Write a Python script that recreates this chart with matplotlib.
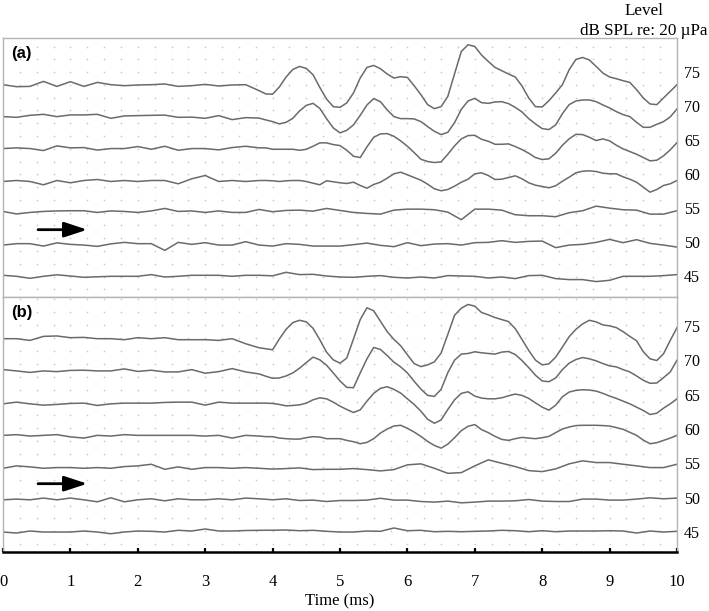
import numpy as np
import matplotlib
matplotlib.use("Agg")
import matplotlib.pyplot as plt

# time axes (ms): the quiet traces are read every 0.2 ms,
# the large responses every 0.1 ms after 3.9 ms
t_coarse = np.linspace(0, 10, 51)
t_fine = np.r_[np.linspace(0, 3.8, 20), np.linspace(3.9, 10, 62)]
levels = [75, 70, 65, 60, 55, 50, 45]

# panel (a) waveforms, amplitude in plot units (up = positive)
a75 = [0, -2, -1.7, 3.3, -1.7, 3, -1.7, 2.3, 0, -1, -0.3, 0, 0.7, -1.7, -1, 0.3, -1.3, -0.3, 0, -6,
       -9.3,
       -9.5, -2.3, 7.7, 15.3, 18.3, 16.3, 10, -2.7, -14.3, -22,
       -22.7, -18.3, -8.3, 6.7, 17.3, 19.3, 16, 10.7, 6.7, 8,
       7.3, -1, -10, -20, -24, -22, -11.7, 11, 33.3, 40,
       38.3, 29.7, 23.3, 17.3, 14, 10.7, 7.7, -1.3, -13.3, -22,
       -22.3, -16, -8.3, 0, 15, 25.3, 27.3, 24.7, 18.3, 11.7,
       7.7, 6, 4, 2.3, -5, -13.3, -19.3, -20, -13.3, -6.7,
       0]
a70 = [0, -0.7, 1.3, 2.3, 0, 1.7, 1.7, 2.3, -1.7, 0.7, 1, 1.3, 1.5, -0.7, -0.5, -1.7, 1, -3, -1, -1.5,
       -3.3,
       -5, -7.3, -5.7, -1.7, 5.7, 11.3, 13.3, 8.3, -2, -11.3,
       -16.3, -13.7, -8.3, 1.3, 11.7, 18, 15, 6.7, 0, -2,
       -2, -2.3, -5, -10, -14.7, -18, -15.7, -6, 7.3, 15.7,
       18.3, 14, 13.3, 14.7, 15, 13, 9.3, 4.7, -2, -7.3,
       -12, -13, -8.3, 3, 12, 15.7, 16.7, 16.7, 15, 11.7,
       8.7, 5, 2, 0, -5.7, -10.7, -10.7, -7.7, -5, -0.3,
       7.7]
a65 = [0, 0.7, 0, -2, 2.7, 0.7, 1, -1.5, 0, 0, 2, -0.7, 2.3, -1.7, 0, 0, -1.3, 1, 2.3, 0.7,
       0.7,
       -0.7, -0.7, -0.7, -0.7, -1.7, -0.7, 2.3, 5.7, 5.7, 4,
       3, -1.7, -7.7, -9, 1.7, 11.3, 14.7, 15, 12.3, 7.7,
       2.3, -4, -10.7, -13, -14, -13.3, -5.7, 2.7, 9.7, 13,
       13.3, 9.3, 7.3, 4.3, 4.3, 4.7, 2, -1, -4.7, -9,
       -11, -10.3, -4.7, 3.3, 9.7, 14.3, 14, 11.3, 8, 9.7,
       7.7, 3.3, -0.3, -3, -5.7, -9, -12.3, -11.7, -7.3, -1.3,
       6]
a60 = [-1, 0, -1, -4.3, 0, -2.3, 0, 1, -1, 0, -1, 0, 0, -3.3, 1.7, 5, -1, 0, -1, 0,
       0,
       -0.3, -1, -0.3, 0, 0, -1, -2.7, -4.3, -0.3, -1.3,
       -2.3, -3, -1.7, -5, -7.7, -4, -1.7, 2.3, 6.7, 8.3,
       5.7, 3, 0.3, -3.7, -8.3, -10.3, -9, -5.7, -1.7, 1.3,
       6.7, 7.7, 5, 1, 1.3, 3, 4.7, 1.7, -2.3, -4.7,
       -6, -7.3, -5.3, -0.7, 3.3, 7.7, 9.3, 9.7, 9, 7.3,
       6.7, 6.7, 3.7, 1.3, -1.7, -6.7, -11.7, -9, -5, -3.3,
       0]
a55 = [1, -1.5, 0, 1, 1.5, 1.7, 1.7, 0, 1.5, 1, 0, 1.5, 4, 1, 1.5, 0, 1.5, 0, 0, 3,
       0.7, 2, 2.3, 1.3, 4, 2, 0, -1, -1.7, 2.3, 3.3, 3.3, 2.7, 0.3, -7.3, 3.3,
       3.3, 2.3, -2.3, -3.3, -3.3, -4.3, -0.3, 1.7, 6.3, 4.3, 2.7, 2.3, -1.7, -1.7, 1.7]
a50 = [-0.7, 0.7, 0.7, -1.7, 1.5, 0, -0.7, -2, 0.5, 2, 0.7, 0.7, -6, 2, 0, 1.7, -0.7, -0.7, 2.7, -0.7,
       -1.7, 0.7, 0, -1.7, -1.7, -1.7, -0.3, 1.3, -1, -2.3, 1.7, -1.3, 0.3, 0.7, -0.7, 1.7,
       2, 3.7, 2, 3, 3.3, -3.3, -0.7, 0, 2, 5, 1.7, 4.7, 1, -0.7, -2.7]
a45 = [1, 0, -2, 0, 1.5, 0.3, -1, -0.5, 0, 0, 0, 1.7, -0.7, 0, 1, 1, 1, 0, 1, 1,
       0.5, 4, 1.7, 2, 0.3, -0.7, -1, 0, 0.7, -1, -1.7, -0.7, -1.7, 0.7, 0.3, 0,
       -1.7, -0.7, -2.3, 0.7, 1, -2.3, -3.3, -3.3, -5.3, -4, 0, 0, 0, 0.7, 1.7]

# panel (b) waveforms
b75 = [0, 0, -1.7, 2.3, 2.7, 1, 1.3, 0, 0, -1, 1, 0, 1, -1, -1, -1, -1.7, 0, -5, -9,
       -10,
       -11, -0.3, 9.3, 16, 18.3, 16.7, 10.3, -1, -13.3, -21,
       -24.3, -19.3, -0.3, 19, 30.7, 27.7, 17.3, 7, -0.7, -7,
       -16, -24.7, -27.7, -26, -23, -14.3, 4.3, 23.3, 30.3, 34,
       32.3, 26, 23.7, 21, 19, 17, 10, -0.7, -11.7, -21.3,
       -26, -25, -18.3, -8.3, 2, 9.3, 14.7, 18.3, 16.7, 13.7,
       12.7, 11, 7, 2.3, -2, -13, -20, -21.7, -15, -1.7,
       11]
b70 = [1.3, 0, -1.5, 0, -0.7, 0.5, 0.7, 0, 0, 2, -0.5, 0.7, -1, -1, 1.3, -2.3, -0.7, 2.3, -1, -3,
       -5.3,
       -7.3, -7, -5, -2, 2.7, 8.3, 13.7, 11, 5.7, -2,
       -10, -16.3, -16.7, -2, 12, 23.3, 21.3, 15.3, 8.7, 4,
       -2, -10.3, -18, -24.3, -25.3, -18.3, -1.7, 10.7, 16.7, 17.3,
       19, 18, 17.3, 16.7, 18.7, 19.3, 16.3, 10.3, 3.3, -4.3,
       -10, -10.7, -7, 1.3, 7.7, 11.3, 13.3, 12, 10, 7.3,
       5, 4, 1.3, -1, -5, -9.3, -12.3, -12, -6.7, -1,
       10.7]
b65 = [-0.7, 1, -0.7, -2, -1.3, -0.3, 0, -2.3, -0.7, 0, 0, 0, 0.7, 1, 1, -2, 1, 0, 0, 0,
       0,
       -0.3, -1.3, -2.7, -2.3, -1.7, 0, 3.3, 5.3, 4.3, 1,
       -3, -6.3, -9.3, -6.7, 2, 9.7, 14.7, 16.3, 13.7, 10,
       4.3, -1.3, -8, -16, -20, -16.7, -6.3, 3.3, 9.7, 11.3,
       7, 5, 4.3, 4.3, 5.3, 7.3, 9, 7.7, 4.7, 0.3,
       -4, -7, -2, 6.3, 11, 12.7, 13.3, 13, 12, 9.7,
       7, 4.7, 2, -0.7, -4, -7.3, -11.3, -10, -5, -0.7,
       4.3]
b60 = [0, 0.7, -0.7, 0, 0.7, -1.5, -2.7, 0, -0.7, 0.7, 0, 0, 0, 0, 0, -0.7, 0, -2.7, 0, -0.7,
       -1.3,
       -1.3, -2.7, -3.3, -3.7, -3.7, -2.3, -1.3, -1.7, -3.3, -3.3,
       -3.3, -5, -6.3, -8.3, -7, -3.3, 2.3, 6.3, 9.3, 10,
       7, 3.3, -1, -6, -10, -12.7, -8.7, -2.3, 4.7, 9,
       10.7, 5.7, 2.7, -1, -4, -5, -3.3, -2, -2.7, -3.3,
       -2.3, -1, 2.7, 6.3, 8.3, 9.7, 10, 10, 10, 9.7,
       9.3, 7.7, 6, 3, 0, -4.7, -8.3, -7.3, -5, -2.7,
       0]
b55 = [-0.7, 1.7, 0.7, -0.7, 0, 0, -0.7, 0, -0.7, 1, 1.7, 3.3, -1.7, 0.7, -1.7, 0, 0, -0.7, 0, -0.7,
       -1.5, -1, -0.3, -2, -1.7, -1.7, -1, -2, -3.3, -2, 2.7, 3.7, -0.7, -5.7, -5, 1.7,
       7.7, 4.3, 1, -3, -4, -1.3, 3.7, 6.7, 5, 5, 3.3, 1.7, 0, 0, 3.3]
b50 = [0, 0.7, 0, 1.7, 0, 1.7, 0, -2, 2, -2, 0, 1, -1, 1, 0, 0, 1, 0, 1.7, 1,
       0, 1, -0.7, -0.3, -1.7, -0.7, -0.7, -0.3, 1.5, -0.3, -0.3, -1.7, -2.3, -1.3, -3, -2.3,
       -1.3, -1.3, -1, 0.3, -1.3, -1.7, -1.7, 0.7, 0.7, -0.3, -0.3, 0.7, 2, 1, 1.7]
b45 = [0, -1, 1, 0, 0, 0, 1, 0, -1.7, 0, 1, 0.7, 0, 1.7, 1, 3, 1, 1, 1.5, 1.7,
       1.8, 2, 1.3, 1.7, 0.7, 0, 0, 1, 0.7, 4, 1.3, 1.7, 0.3, 0.7, 0.3, 0.7,
       1, 1.7, 1.3, 0.3, 1.3, 0.3, 1, 1, 1, 1.3, 1, -1, 1, 0, 0.7]

panel_a = [a75, a70, a65, a60, a55, a50, a45]
panel_b = [b75, b70, b65, b60, b55, b50, b45]

AMP_SCALE = 1 / 6.4          # plot units -> dB offset
LABEL_STRETCH = 1.065        # level labels are spaced a little wider than traces
TRACE_COLOR = "#6a6a6a"
FRAME_COLOR = "#b4b4b4"
SERIF = "Liberation Serif"

fig = plt.figure(figsize=(7.09, 6.11), dpi=100)
ax_a = fig.add_axes([3 / 709, 1 - 297 / 611, 674 / 709, 259 / 611])
ax_b = fig.add_axes([3 / 709, 1 - 552 / 611, 674 / 709, 255 / 611])


def draw_panel(ax, traces, ylim, tag, arrow_y):
    ax.set_xlim(0, 10)
    ax.set_ylim(*ylim)

    # faint dot grid
    gx, gy = np.meshgrid(np.arange(0.25, 10, 0.25), np.arange(ylim[0] + 1.2, ylim[1], 2.0))
    ax.scatter(gx.ravel(), gy.ravel(), marker="+", s=3, lw=0.5, color="#cdcdcd", zorder=1)

    for lvl, amp in zip(levels, traces):
        t = t_fine if len(amp) == len(t_fine) else t_coarse
        ax.plot(t, lvl + np.array(amp) * AMP_SCALE, color=TRACE_COLOR, lw=1.1, zorder=2)

    ax.yaxis.tick_right()
    ax.set_yticks([45 + (l - 45) * LABEL_STRETCH for l in levels])
    ax.set_yticklabels([str(l) for l in levels], fontfamily=SERIF, fontsize=11.5)
    ax.tick_params(axis="y", length=0, pad=5)

    for s in ax.spines.values():
        s.set_color(FRAME_COLOR)
        s.set_linewidth(1.0)

    ax.text(0.012, 0.94, tag, transform=ax.transAxes, fontfamily="Liberation Sans",
            fontweight="bold", fontsize=12, va="center", ha="left")

    ax.annotate("", xy=(1.25, arrow_y), xytext=(0.52, arrow_y),
                arrowprops=dict(arrowstyle="-|>,head_length=1.0,head_width=0.33",
                                mutation_scale=14, lw=2, color="black",
                                shrinkA=0, shrinkB=0))


draw_panel(ax_a, panel_a, (41.76, 82.31), "(a)", 52.3)
draw_panel(ax_b, panel_b, (41.9, 81.47), "(b)", 52.5)

ax_a.tick_params(axis="x", bottom=False, labelbottom=False)

ax_b.set_xticks(range(0, 11))
ax_b.set_xticklabels([str(i) for i in range(0, 11)], fontfamily=SERIF, fontsize=12)
ax_b.tick_params(axis="x", direction="in", length=3, width=1.6, color="black", pad=16)
ax_b.spines["bottom"].set_color("black")
ax_b.spines["bottom"].set_linewidth(1.8)
ax_b.set_xlabel("Time (ms)", fontfamily=SERIF, fontsize=12, labelpad=2)

fig.text(644 / 709, 1 - 3 / 611, "Level\ndB SPL re: 20 \u00b5Pa", ha="center", va="top",
         multialignment="center", fontfamily=SERIF, fontsize=12.3, linespacing=1.3)

fig.savefig("out.png", dpi=100)
